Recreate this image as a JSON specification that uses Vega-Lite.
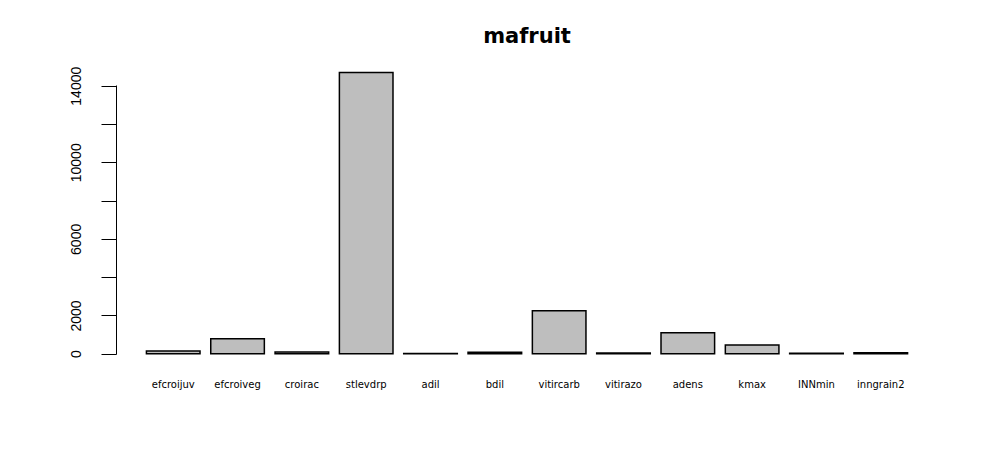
{
  "$schema": "https://vega.github.io/schema/vega-lite/v6.json",
  "autosize": {"type": "none"},
  "padding": {"left": 116, "top": 61, "right": 59, "bottom": 84},
  "width": 822,
  "height": 304,
  "background": "white",
  "title": {
    "text": "mafruit",
    "font": "DejaVu Sans",
    "fontSize": 21,
    "fontWeight": "bold",
    "color": "black",
    "anchor": "middle",
    "baseline": "alphabetic",
    "offset": 19,
    "dy": 22
  },
  "config": {"view": {"stroke": null}},
  "data": {
    "values": [
      {"name": "efcroijuv", "value": 140},
      {"name": "efcroiveg", "value": 780},
      {"name": "croirac", "value": 90},
      {"name": "stlevdrp", "value": 14690},
      {"name": "adil", "value": 10},
      {"name": "bdil", "value": 80},
      {"name": "vitircarb", "value": 2250},
      {"name": "vitirazo", "value": 40},
      {"name": "adens", "value": 1100},
      {"name": "kmax", "value": 450},
      {"name": "INNmin", "value": 30},
      {"name": "inngrain2", "value": 50}
    ]
  },
  "mark": {"type": "bar", "fill": "#BEBEBE", "stroke": "black", "strokeWidth": 1.5},
  "encoding": {
    "x": {
      "field": "name",
      "type": "nominal",
      "sort": null,
      "scale": {"paddingInner": 0.1667, "paddingOuter": 0.473},
      "axis": {
        "title": null,
        "domain": false,
        "ticks": false,
        "tickSize": 0,
        "labelAngle": 0,
        "labelAlign": "center",
        "labelBaseline": "alphabetic",
        "labelPadding": 22,
        "labelFont": "DejaVu Sans",
        "labelFontSize": 10,
        "labelColor": "black"
      }
    },
    "y": {
      "field": "value",
      "type": "quantitative",
      "scale": {"domain": [-590, 15290], "nice": false, "zero": false},
      "axis": {
        "title": null,
        "grid": false,
        "values": [0, 2000, 4000, 6000, 8000, 10000, 12000, 14000],
        "labelExpr": "datum.value == 4000 || datum.value == 8000 || datum.value == 12000 ? '' : datum.value",
        "domainColor": "black",
        "domainWidth": 1,
        "domainDash": [0, 11, 269, 400],
        "tickColor": "black",
        "tickWidth": 1,
        "tickSize": 15,
        "labelAngle": -90,
        "labelAlign": "center",
        "labelBaseline": "alphabetic",
        "labelPadding": 21,
        "labelFont": "Liberation Sans Narrow, Liberation Sans",
        "labelFontSize": 14,
        "labelColor": "black",
        "labelOverlap": false,
        "labelFlush": false
      }
    }
  }
}
